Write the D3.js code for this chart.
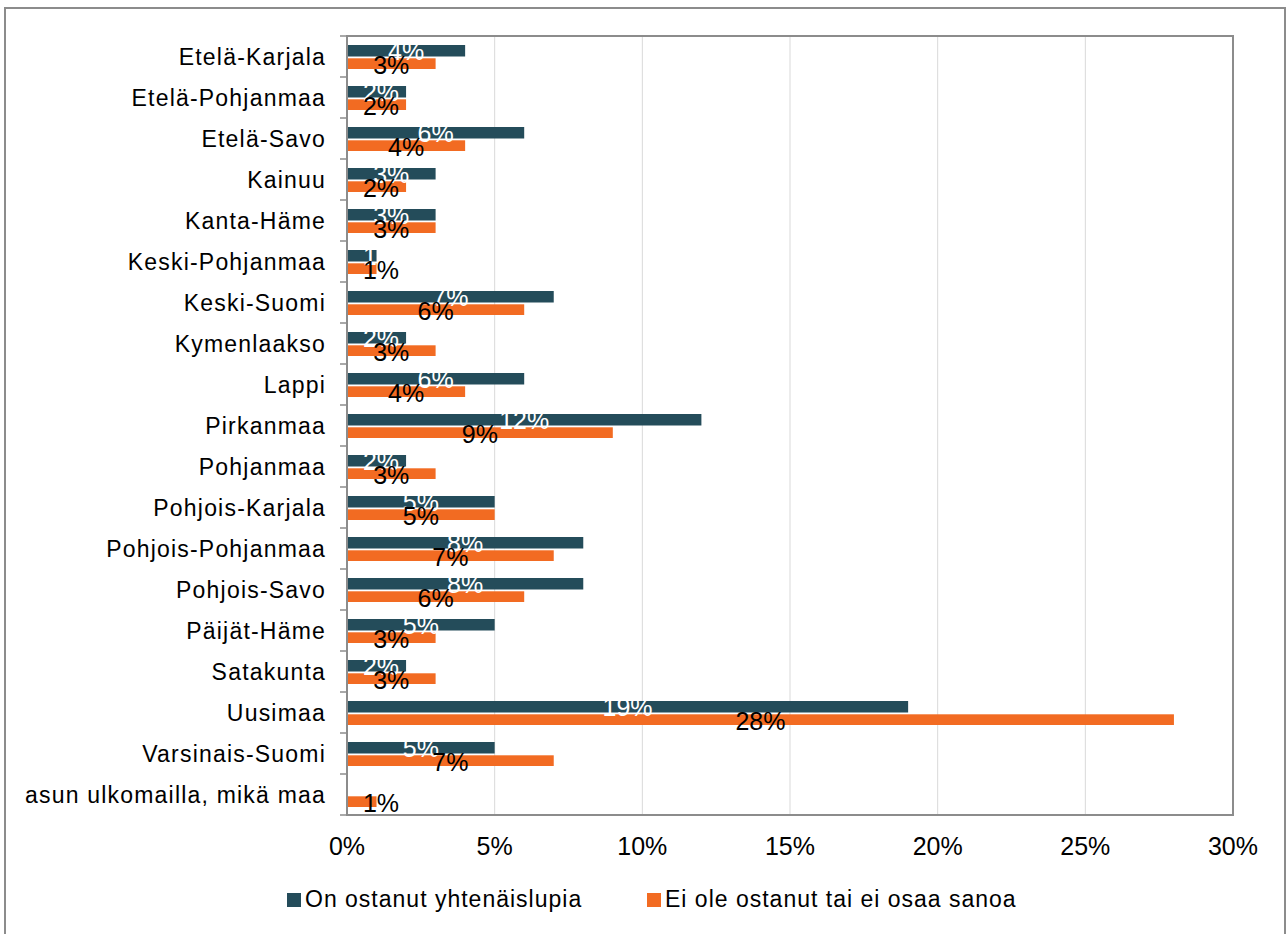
<!DOCTYPE html>
<html>
<head>
<meta charset="utf-8">
<script src="https://cdn.jsdelivr.net/npm/d3@7"></script>
<style>
  body { margin: 0; background: #fff; }
  text { font-family: "Liberation Sans", Arial, sans-serif; }
</style>
</head>
<body>
<div id="chart"></div>
<script>
const regions = ['Etelä-Karjala','Etelä-Pohjanmaa','Etelä-Savo','Kainuu','Kanta-Häme ','Keski-Pohjanmaa','Keski-Suomi','Kymenlaakso','Lappi','Pirkanmaa','Pohjanmaa','Pohjois-Karjala','Pohjois-Pohjanmaa','Pohjois-Savo','Päijät-Häme','Satakunta','Uusimaa','Varsinais-Suomi','asun ulkomailla, mikä maa']
const bought = [4,2,6,3,3,1,7,2,6,12,2,5,8,8,5,2,19,5,null]
const notBought = [3,2,4,2,3,1,6,3,4,9,3,5,7,6,3,3,28,7,1]
const seriesNames = ['On ostanut yhtenäislupia','Ei ole ostanut tai ei osaa sanoa']
const xTicks = [0,5,10,15,20,25,30]

const w = 1287, h = 934
const m = {left:347, top:36, right:1233, bottom:815}
const colors = ['#244C5A','#F26B22']

const svg = d3.select('#chart').append('svg').attr('width',w).attr('height',h)

// outer frame
svg.append('rect').attr('x',5).attr('y',8).attr('width',1280).attr('height',940)
  .attr('fill','none').attr('stroke','#8c8c8c').attr('stroke-width',2)

const x = d3.scaleLinear().domain([0,30]).range([m.left,m.right])
const y = d3.scaleBand().domain(regions).range([m.top,m.bottom])

// gridlines
svg.append('g').selectAll('line').data(xTicks.slice(1,-1)).enter().append('line')
  .attr('x1',d=>x(d)).attr('x2',d=>x(d)).attr('y1',m.top).attr('y2',m.bottom)
  .attr('stroke','#d9d9d9').attr('stroke-width',1)

const rows = regions.map((r,i)=>({r, a:bought[i], b:notBought[i]}))

// bars
svg.append('g').selectAll('rect').data(rows.filter(d=>d.a!=null)).enter().append('rect')
  .attr('x',x(0)).attr('y',d=>y(d.r)+9).attr('width',d=>x(d.a)-x(0)).attr('height',11.5)
  .attr('fill',colors[0])
svg.append('g').selectAll('rect').data(rows.filter(d=>d.b!=null)).enter().append('rect')
  .attr('x',x(0)).attr('y',d=>y(d.r)+22.3).attr('width',d=>x(d.b)-x(0)).attr('height',10.7)
  .attr('fill',colors[1])

// labels (kept off the axis like excel does)
const labelX = v => Math.max((x(0)+x(v))/2, m.left+34)
svg.append('g').selectAll('text').data(rows.filter(d=>d.a!=null)).enter().append('text')
  .attr('x',d=>labelX(d.a)).attr('y',d=>y(d.r)+15)
  .attr('text-anchor','middle').attr('dominant-baseline','central')
  .attr('font-size',25).attr('fill','#fff').text(d=>d.a+'%')
svg.append('g').selectAll('text').data(rows.filter(d=>d.b!=null)).enter().append('text')
  .attr('x',d=>labelX(d.b)).attr('y',d=>y(d.r)+29)
  .attr('text-anchor','middle').attr('dominant-baseline','central')
  .attr('font-size',25).attr('fill','#000').text(d=>d.b+'%')

// plot frame
svg.append('rect').attr('x',m.left).attr('y',m.top).attr('width',m.right-m.left).attr('height',m.bottom-m.top)
  .attr('fill','none').attr('stroke','#8c8c8c').attr('stroke-width',2)

// y axis ticks
const yAxis = svg.append('g').attr('id','y-axis')
yAxis.selectAll('line').data(d3.range(regions.length+1)).enter().append('line')
  .attr('x1',m.left-7).attr('x2',m.left).attr('y1',i=>m.top+i*y.step()).attr('y2',i=>m.top+i*y.step())
  .attr('stroke','#8c8c8c').attr('stroke-width',1.5)
yAxis.selectAll('text').data(regions).enter().append('text')
  .attr('x',326).attr('y',d=>y(d)+y.bandwidth()/2)
  .attr('text-anchor','end').attr('dominant-baseline','central')
  .attr('font-size',23).attr('letter-spacing',1.2).attr('fill','#000').text(d=>d)

// x axis labels
svg.append('g').attr('id','x-axis').selectAll('text').data(xTicks).enter().append('text')
  .attr('x',d=>x(d)).attr('y',846)
  .attr('text-anchor','middle').attr('dominant-baseline','central')
  .attr('font-size',25).attr('fill','#000').text(d=>d+'%')

// legend
const leg = svg.append('g')
const legX = [287,647]
seriesNames.forEach((s,i)=>{
  leg.append('rect').attr('x',legX[i]).attr('y',893).attr('width',14).attr('height',14).attr('fill',colors[i])
  leg.append('text').attr('x',legX[i]+18).attr('y',899).attr('dominant-baseline','central')
    .attr('font-size',23).attr('letter-spacing',1).attr('fill','#000').text(s)
})
</script>
</body>
</html>
